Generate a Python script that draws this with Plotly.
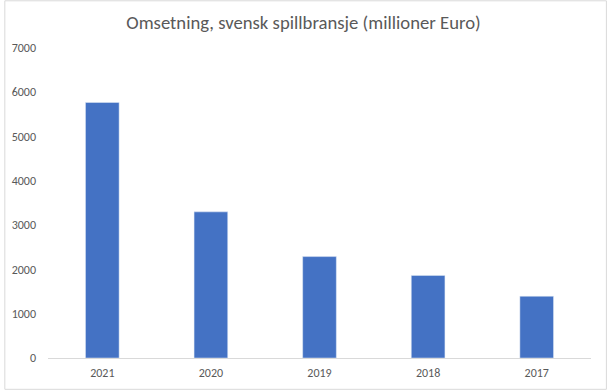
import plotly.graph_objects as go

years = ["2021", "2020", "2019", "2018", "2017"]
values = [5770, 3300, 2290, 1865, 1395]
y_ticks = [0, 1000, 2000, 3000, 4000, 5000, 6000, 7000]

FONT = "Carlito, Calibri, Liberation Sans, sans-serif"

fig = go.Figure(go.Bar(x=years, y=values, marker_color="#4472C4", width=0.31,
                       hoverinfo="skip"))

fig.update_layout(
    width=607, height=392,
    margin=dict(l=44, r=16, t=48, b=32),
    paper_bgcolor="white", plot_bgcolor="white",
    showlegend=False,
    title=dict(text="Omsetning, svensk spillbransje (millioner Euro)",
               x=0.5, xref="container", xanchor="center", y=1 - 22.5 / 392, yanchor="middle",
               font=dict(family=FONT, size=18.7, color="#595959")),
    font=dict(family=FONT, color="#595959"),
)
fig.update_xaxes(showline=True, linecolor="#D9D9D9", linewidth=1, showgrid=False,
                 ticks="", tickfont=dict(size=12, color="#595959"), ticklabelstandoff=4,
                 range=[-0.5, 4.5], fixedrange=True)
fig.update_yaxes(range=[0, 7000], tickvals=y_ticks, showgrid=False, showline=False,
                 zeroline=False, ticks="", tickfont=dict(size=12, color="#595959"),
                 ticklabelstandoff=11, fixedrange=True)
fig.add_shape(type="rect", xref="paper", yref="paper",
              x0=(0.5 - 44) / 547, x1=(606.5 - 44) / 547,
              y0=(360 - 391.5) / 312, y1=(360 - 0.5) / 312,
              line=dict(color="#D9D9D9", width=1), layer="below")
fig.write_html("out.html", config={"displayModeBar": False},
               post_script="document.body.style.margin='0';document.body.style.overflow='hidden';")
